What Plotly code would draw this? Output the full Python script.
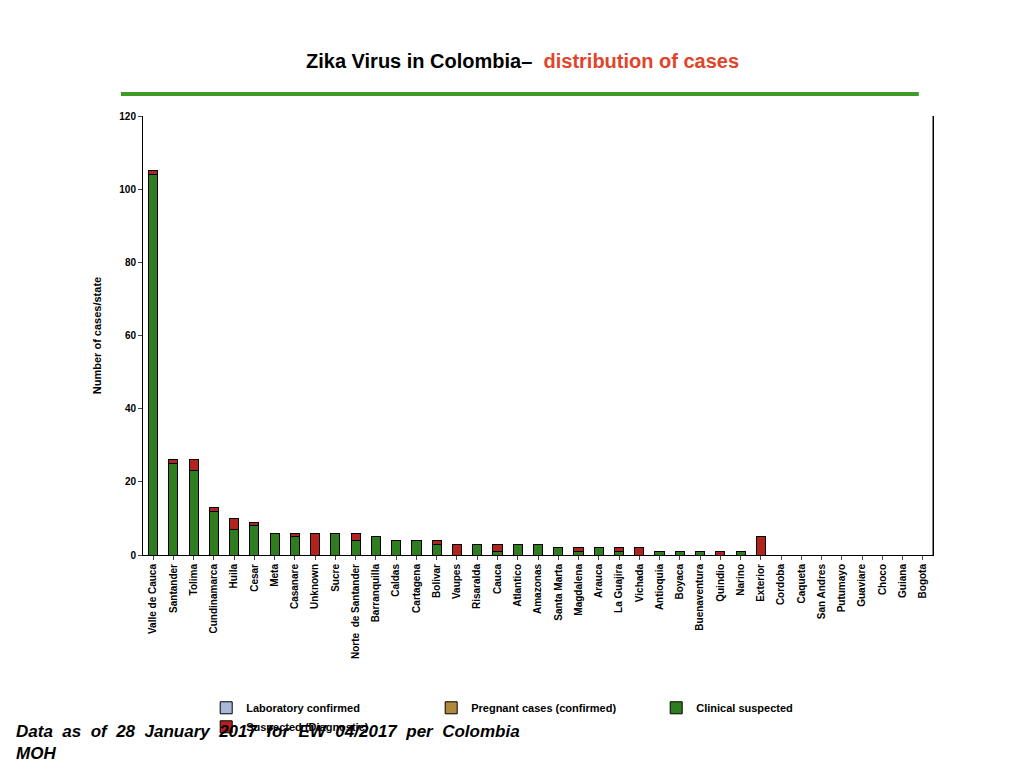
import plotly.graph_objects as go

states = ["Valle de Cauca", "Santander", "Tolima", "Cundinamarca", "Huila", "Cesar", "Meta",
          "Casanare", "Unknown", "Sucre", "Norte  de Santander", "Barranquilla", "Caldas",
          "Cartagena", "Bolivar", "Vaupes", "Risaralda", "Cauca", "Atlantico", "Amazonas",
          "Santa Marta", "Magdalena", "Arauca", "La Guajira", "Vichada", "Antioquia", "Boyaca",
          "Buenaventura", "Quindio", "Narino", "Exterior", "Cordoba", "Caqueta", "San Andres",
          "Putumayo", "Guaviare", "Choco", "Guiana", "Bogota"]
lab_confirmed = [0] * len(states)
pregnant = [0] * len(states)
clinical = [104, 25, 23, 12, 7, 8, 6, 5, 0, 6, 4, 5, 4, 4, 3, 0, 3, 1, 3, 3, 2, 1, 2, 1, 0,
            1, 1, 1, 0, 1, 0, 0, 0, 0, 0, 0, 0, 0, 0]
suspected = [1, 1, 3, 1, 3, 1, 0, 1, 6, 0, 2, 0, 0, 0, 1, 3, 0, 2, 0, 0, 0, 1, 0, 1, 2,
             0, 0, 0, 1, 0, 5, 0, 0, 0, 0, 0, 0, 0, 0]

series = [("Laboratory confirmed", lab_confirmed, "#a9b8d8"),
          ("Pregnant cases (confirmed)", pregnant, "#b08a3a"),
          ("Clinical suspected", clinical, "#2e7d1e"),
          ("Suspected (Diagnostic)", suspected, "#b2231e")]

fig = go.Figure()
for name, vals, col in series:
    fig.add_bar(x=states, y=vals, name="<b>" + name + "</b>",
                marker=dict(color=col, line=dict(color="black", width=1)))

fig.update_layout(
    barmode="stack", bargap=0.55, width=1024, height=768,
    paper_bgcolor="white", plot_bgcolor="white",
    font=dict(family="Liberation Sans, Arial", color="black"),
    margin=dict(l=135, r=99, t=108, b=221, autoexpand=False),
    legend=dict(orientation="h", x=0.08, y=-0.315, xanchor="left", yanchor="top",
                font=dict(size=11), traceorder="normal", entrywidth=180,
                itemwidth=30),
    xaxis=dict(tickangle=-90, tickfont=dict(size=10), tickprefix="<b>", ticksuffix="</b>",
               showline=True, linecolor="black", ticks="outside", ticklen=4),
    yaxis=dict(range=[0, 120], dtick=20, tickfont=dict(size=10), tickprefix="<b>", ticksuffix="</b>",
               showline=True, linecolor="black", ticks="outside", ticklen=4, showgrid=False, mirror=True,
               title=dict(text="<b>Number of cases/state</b>", font=dict(size=11))),
    shapes=[dict(type="line", xref="paper", yref="paper", x0=1, x1=1, y0=0, y1=1, line=dict(color="black", width=1)),
            dict(type="line", xref="paper", yref="paper", x0=-0.028, x1=0.982, y0=1.05, y1=1.05,
                 line=dict(color="#3f9a2a", width=4))],
    annotations=[
        dict(text="<b>Zika Virus in Colombia–  </b><b><span style='color:#e0452c'>distribution of cases</span></b>",
             xref="paper", yref="paper", x=0.48, y=1.125, yanchor="middle", showarrow=False, font=dict(size=20)),
        dict(text="<b><i>Data  as  of  28  January  2017  for  EW  04/2017  per  Colombia<br>MOH</i></b>",
             xref="paper", yref="paper", x=-0.163, y=-0.375, xanchor="left", yanchor="top", align="left",
             showarrow=False, font=dict(size=17)),
    ],
)
fig.write_html("out.html")
